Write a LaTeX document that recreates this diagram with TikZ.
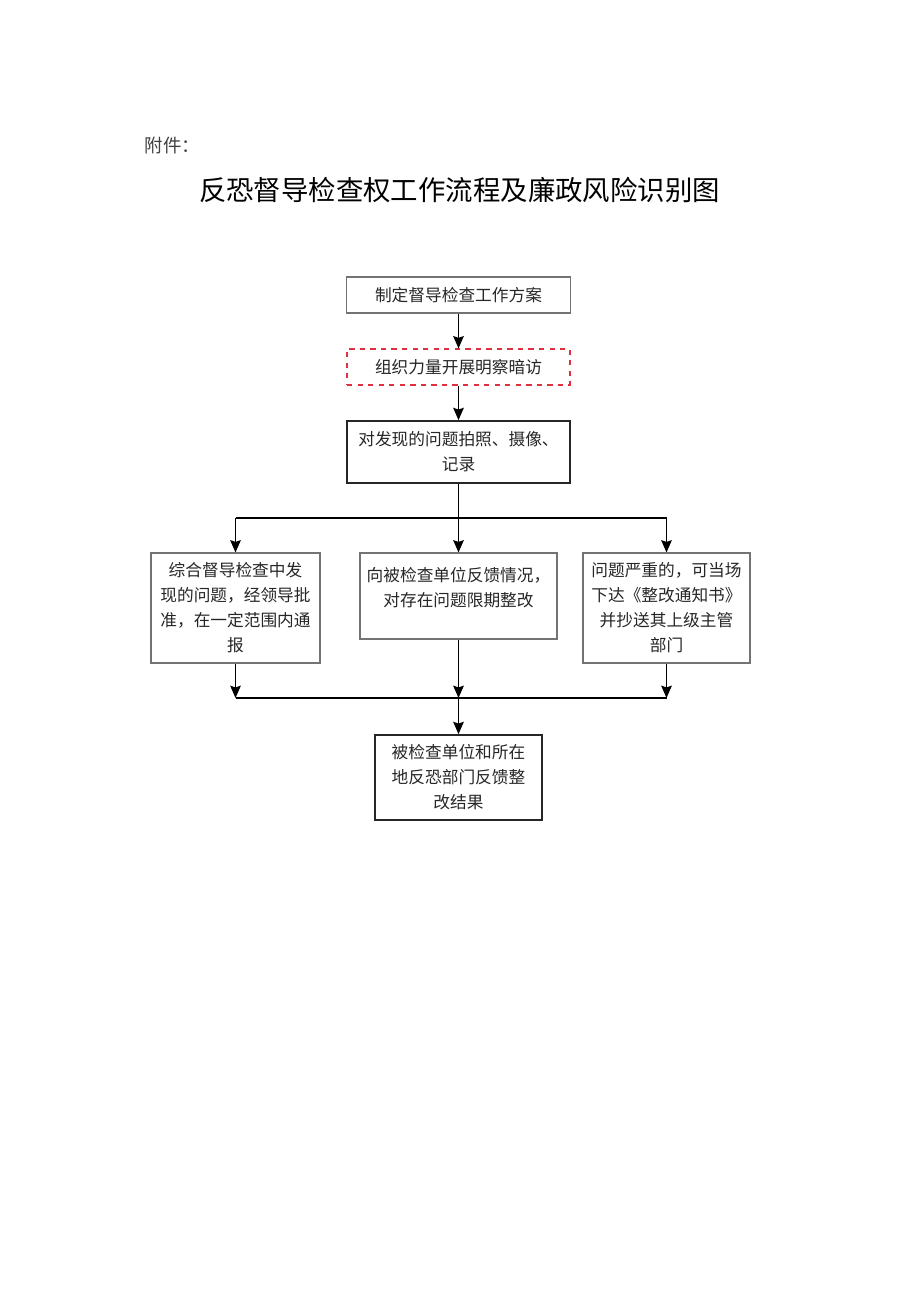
\documentclass[tikz,border=0pt]{standalone}
\usepackage{fontspec}
\newfontfamily\cjk{Noto Sans CJK SC}
\usetikzlibrary{positioning,arrows.meta}
\definecolor{boxred}{RGB}{224,48,64}

\begin{document}
\begin{tikzpicture}[-,>={Stealth[length=7pt,width=6pt,inset=1pt]},line width=1pt,x=0.02cm,y=-0.02cm,
  box/.style={rectangle,draw=black!55,line width=0.6pt,text=black!85,font=\cjk\fontsize{9.5pt}{14.2pt}\selectfont,align=center,inner sep=2pt},
  dark box/.style={box,draw=black!85,line width=1pt},
  red box/.style={box,draw=boxred,dashed,line width=0.7pt}]

            \useasboundingbox (0,0) rectangle (920,1301);

            \node (head) [anchor=west,font=\cjk\fontsize{10.5pt}{12pt}\selectfont,text=black!75] at (138,145) {附件：};
            \node (title) [font=\cjk\fontsize{15.6pt}{18pt}\selectfont] at (459.5,190) {反恐督导检查权工作流程及廉政风险识别图};

            \node[box, minimum width=4.48cm, minimum height=0.72cm] (1) at (458.5,295) {制定督导检查工作方案};
            \node[red box, minimum width=4.46cm, minimum height=0.72cm] (2) at (458.5,367) {组织力量开展明察暗访};
            \node[dark box, minimum width=4.46cm, minimum height=1.24cm] (3) at (458.5,452) {对发现的问题拍照、摄像、\\记录};
            \node[box, minimum width=3.38cm, minimum height=2.2cm] (4) at (235.5,608) {综合督导检查中发\\现的问题，经领导批\\准，在一定范围内通\\报};
            \node[box, minimum width=3.94cm] (5) at (458.5,596) {\parbox[c][1.58cm][t]{3.8cm}{\centering\rule{0pt}{14pt}向被检查单位反馈情况，\\对存在问题限期整改}};
            \node[box, minimum width=3.34cm, minimum height=2.2cm] (6) at (666.5,608) {问题严重的，可当场\\下达《整改通知书》\\并抄送其上级主管\\部门};
            \node[dark box, minimum width=3.34cm, minimum height=1.7cm] (7) at (458.5,777.5) {被检查单位和所在\\地反恐部门反馈整\\改结果};

            \coordinate (split) at (458.5,518);
            \coordinate (join) at (458.5,698);

            \draw[->] (1) to (2);
            \draw[->] (2) to (3);
            \draw[->] (3) to (5);
            \draw[-] (4.north |- split) to (6.north |- split);
            \draw[->] (4.north |- split) to (4);
            \draw[->] (6.north |- split) to (6);

            \draw[->] (4) to (4.south |- join);
            \draw[->] (5) to (join);
            \draw[->] (6) to (6.south |- join);
            \draw[-] (4.south |- join) to (6.south |- join);
            \draw[->] (join) to (7);

        \end{tikzpicture}
\end{document}
